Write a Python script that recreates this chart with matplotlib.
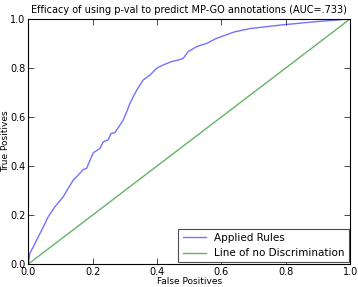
import numpy as np
import matplotlib
matplotlib.use('Agg')
import matplotlib.pyplot as plt

# ---- data ----
fpr = [0.0, 0.005, 0.016, 0.031, 0.047, 0.062, 0.083, 0.109, 0.124, 0.14,
       0.155, 0.171, 0.181, 0.192, 0.202, 0.223, 0.233, 0.248, 0.257, 0.269,
       0.285, 0.295, 0.306, 0.316, 0.337, 0.357, 0.378, 0.399, 0.419, 0.445,
       0.471, 0.482, 0.497, 0.523, 0.554, 0.585, 0.621, 0.64, 0.69, 0.79,
       0.895, 1.0]
tpr = [0.0, 0.044, 0.071, 0.111, 0.152, 0.193, 0.234, 0.275, 0.309, 0.343,
       0.363, 0.386, 0.39, 0.424, 0.454, 0.472, 0.499, 0.506, 0.533, 0.536,
       0.567, 0.588, 0.622, 0.656, 0.71, 0.751, 0.771, 0.799, 0.812, 0.826,
       0.834, 0.84, 0.867, 0.887, 0.9, 0.921, 0.938, 0.947, 0.961, 0.976,
       0.989, 1.0]
diag = [0.0, 1.0]

title = 'Efficacy of using p-val to predict MP-GO annotations (AUC=.733)'

# ---- plot ----
fig = plt.figure(figsize=(3.58, 2.87), dpi=100)
ax = fig.add_axes([0.079, 0.08, 0.899, 0.854])

ax.plot(fpr, tpr, color='b', alpha=0.55, lw=1.0, label='Applied Rules')
ax.plot(diag, diag, color='g', alpha=0.6, lw=1.0, label='Line of no Discrimination')

ax.set_xlim(0, 1)
ax.set_ylim(0, 1)
ax.set_xticks(np.arange(0, 1.01, 0.2))
ax.set_yticks(np.arange(0, 1.01, 0.2))
ax.tick_params(direction='in', top=True, right=True, labelsize=7,
               length=4, width=0.5, pad=2)
for s in ax.spines.values():
    s.set_linewidth(0.8)

ax.set_xlabel('False Positives', fontsize=6.5, labelpad=0)
ax.set_ylabel('True Positives', fontsize=6.5)
ax.yaxis.set_label_coords(-0.058, 0.5)
ax.set_title(title, fontsize=7, pad=4)

leg = ax.legend(loc='lower right', fontsize=7.5, fancybox=False,
                borderaxespad=0.15, handlelength=2.2, framealpha=1)
leg.get_frame().set_edgecolor('0.3')
leg.get_frame().set_linewidth(0.8)

fig.savefig('out.png', dpi=100)
